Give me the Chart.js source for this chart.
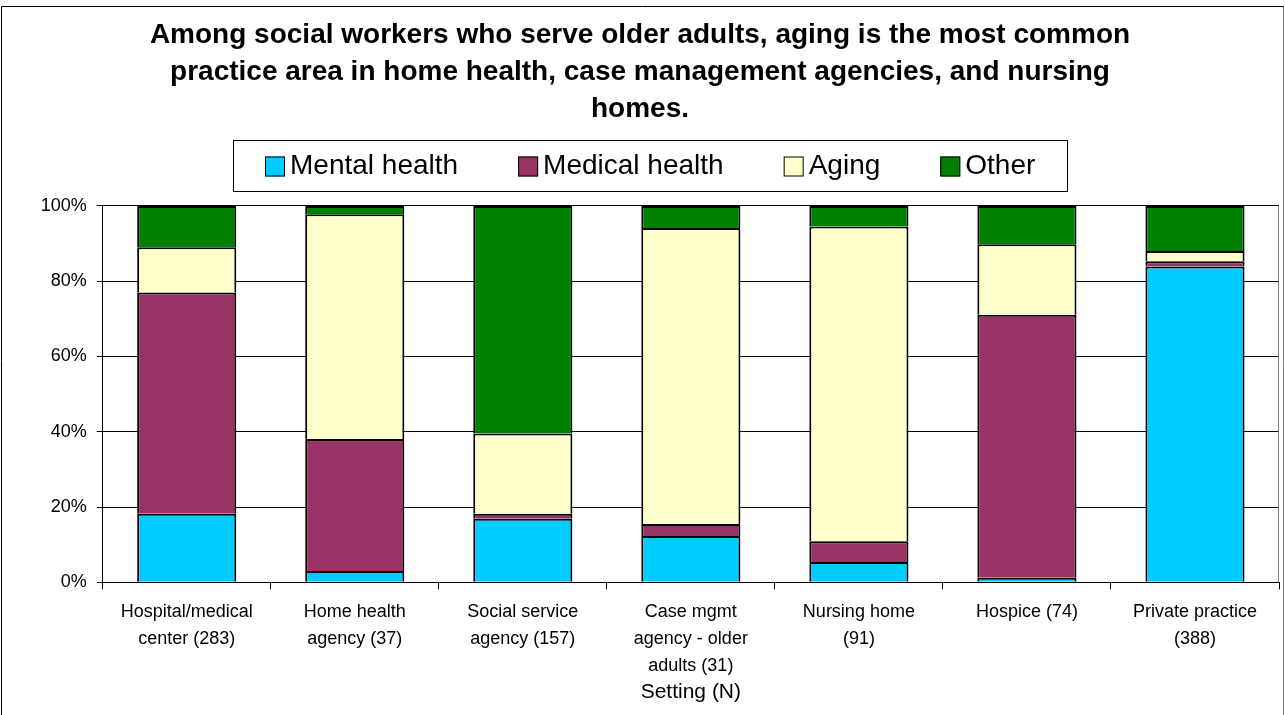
<!DOCTYPE html>
<html>
<head>
<meta charset="utf-8">
<title>Practice area by setting</title>
<script src="https://cdn.jsdelivr.net/npm/chart.js@4.4.1/dist/chart.umd.min.js"></script>
<style>
  html, body { margin: 0; padding: 0; background: #fff; }
  #wrap { width: 1285px; height: 715px; }
</style>
</head>
<body>
<div id="wrap"><canvas id="practiceArea" width="1285" height="715"></canvas></div>
<script>
// Settings (with N) and share of each practice area, in percent
const settings = [
  ['Hospital/medical', 'center (283)'],
  ['Home health', 'agency (37)'],
  ['Social service', 'agency (157)'],
  ['Case mgmt', 'agency - older', 'adults (31)'],
  ['Nursing home', '(91)'],
  ['Hospice (74)'],
  ['Private practice', '(388)']
];
const mentalHealth  = [18.2, 3.0, 16.9, 12.3, 5.4, 1.2, 83.9];
const medicalHealth = [58.8, 35.1, 1.3, 3.2, 5.5, 69.9, 1.4];
const aging         = [12.0, 59.7, 21.3, 78.6, 83.6, 18.7, 2.7];
const other         = [11.0, 2.2, 60.5, 5.9, 5.5, 10.2, 12.0];
const percentTicks  = [0, 20, 40, 60, 80, 100];

const FONT = '"Liberation Sans", Arial, sans-serif';

// Legend drawn as one boxed row under the title
const boxedLegend = {
  id: 'boxedLegend',
  afterDraw(chart) {
    const c = chart.ctx;
    const sets = chart.data.datasets;
    const swatch = 20, gapText = 5, gapItem = 60, pad = 32, h = 51;
    c.save();
    c.font = '28px ' + FONT;
    const widths = sets.map(d => swatch + gapText + c.measureText(d.label).width);
    const total = widths.reduce((a, b) => a + b, 0) + gapItem * (sets.length - 1);
    const cx = chart.width / 2 + 8;
    const top = Math.round(chart.chartArea.top - 66);
    const left = Math.round(cx - total / 2 - pad);
    c.strokeStyle = '#000';
    c.lineWidth = 1;
    c.strokeRect(left + 0.5, top + 0.5, Math.round(total + 2 * pad), h);
    let x = Math.round(cx - total / 2);
    const midY = top + h / 2 + 1;
    sets.forEach((d, i) => {
      c.fillStyle = d.backgroundColor;
      c.fillRect(x, midY - 10, swatch, swatch);
      c.strokeStyle = '#000';
      c.strokeRect(x + 0.5, midY - 9.5, swatch - 1, swatch - 1);
      c.fillStyle = '#000';
      c.textBaseline = 'middle';
      c.textAlign = 'left';
      c.fillText(d.label, x + swatch + gapText, midY);
      x += widths[i] + gapItem;
    });
    c.restore();
  }
};

// Outer frame and the right edge of the plot area
const frame = {
  id: 'frame',
  afterDraw(chart) {
    const c = chart.ctx;
    const a = chart.chartArea;
    c.save();
    c.lineWidth = 1;
    c.strokeStyle = '#808080';
    c.beginPath();
    c.moveTo(Math.round(a.right) - 0.5, a.top);
    c.lineTo(Math.round(a.right) - 0.5, a.bottom);
    c.moveTo(1283.5, 6);
    c.lineTo(1283.5, chart.height);
    c.stroke();
    c.strokeStyle = '#000';
    c.beginPath();
    c.moveTo(1.5, chart.height);
    c.lineTo(1.5, 6.5);
    c.lineTo(1283.5, 6.5);
    c.stroke();
    c.restore();
  }
};

// Each segment skips its bottom edge so stacked joins stay a single line
const barStyle = {
  borderColor: '#000',
  borderWidth: 2,
  borderSkipped: 'start',
  inflateAmount: 0,
  barPercentage: 0.59,
  categoryPercentage: 1.0
};

const ctx = document.getElementById('practiceArea').getContext('2d');
const practiceChart = new Chart(ctx, {
  type: 'bar',
  data: {
    labels: settings,
    datasets: [
      { label: 'Mental health', data: mentalHealth, backgroundColor: '#00CCFF', ...barStyle },
      { label: 'Medical health', data: medicalHealth, backgroundColor: '#993366', ...barStyle },
      { label: 'Aging', data: aging, backgroundColor: '#FFFFCC', ...barStyle },
      { label: 'Other', data: other, backgroundColor: '#008000', ...barStyle }
    ]
  },
  options: {
    responsive: false,
    animation: false,
    layout: { padding: { left: 1, right: 6, top: 0, bottom: 5.7 } },
    plugins: {
      legend: { display: false },
      tooltip: { enabled: false },
      title: {
        display: true,
        text: [
          'Among social workers who serve older adults, aging is the most common',
          'practice area in home health, case management agencies, and nursing',
          'homes.'
        ],
        color: '#000',
        font: { family: FONT, size: 28, weight: 'bold', lineHeight: 1.32 },
        padding: { top: 17, bottom: 78 }
      }
    },
    scales: {
      x: {
        stacked: true,
        grid: { display: true, drawOnChartArea: false, offset: true, color: '#000', tickLength: 7 },
        border: { color: '#000' },
        ticks: {
          color: '#000',
          padding: 9,
          maxRotation: 0,
          autoSkip: false,
          font: { family: FONT, size: 18, lineHeight: 1.5 }
        },
        title: {
          display: true,
          text: 'Setting (N)',
          color: '#000',
          font: { family: FONT, size: 21, lineHeight: 1.2 },
          padding: { top: 0, bottom: 4 }
        },
        afterFit: s => { s.height = 127; }
      },
      y: {
        stacked: true,
        min: 0,
        max: 100,
        afterBuildTicks: s => { s.ticks = percentTicks.map(v => ({ value: v })); },
        grid: { color: '#000', tickLength: 6 },
        border: { color: '#000' },
        ticks: {
          color: '#000',
          padding: 10,
          font: { family: FONT, size: 18 },
          callback: v => v + '%'
        },
        afterFit: s => { s.width = 101.7; }
      }
    }
  },
  plugins: [boxedLegend, frame]
});
</script>
</body>
</html>
